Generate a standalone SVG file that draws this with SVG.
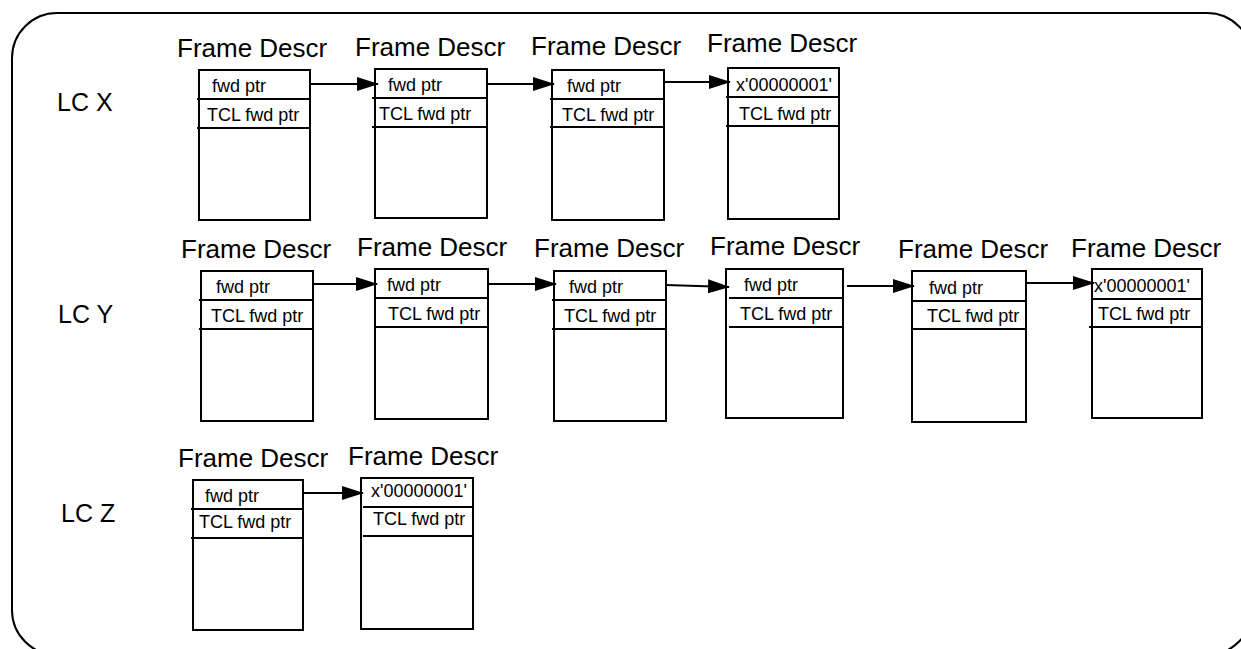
<svg xmlns="http://www.w3.org/2000/svg" width="1241" height="649" viewBox="0 0 1241 649">
<defs>
<style>
.frame{fill:none;stroke:#000;stroke-width:2}
.box{fill:#fff;stroke:#000;stroke-width:2}
.sep{stroke:#000;stroke-width:2}
.conn{stroke:#000;stroke-width:2;fill:none}
.lbl{font-family:"Liberation Sans",Arial,sans-serif;font-size:26px;fill:#000}
.lc{font-family:"Liberation Sans",Arial,sans-serif;font-size:25px;fill:#000}
.cell{font-family:"Liberation Sans",Arial,sans-serif;font-size:18px;fill:#000}
</style>
<marker id="ah" markerUnits="userSpaceOnUse" markerWidth="22" markerHeight="14" refX="21" refY="7" orient="auto">
<path d="M0,0 L22,7 L0,14 Z" fill="#000"/>
</marker>
</defs>
<rect width="1241" height="649" fill="#fff"/>
<rect class="frame" x="12" y="13" width="1240" height="642" rx="45" ry="45"/>

<text class="lc" x="57" y="111">LC X</text>
<text class="lc" x="58" y="323">LC Y</text>
<text class="lc" x="61" y="522">LC Z</text>

<g id="x1">
<text class="lbl" x="177" y="57">Frame Descr</text>
<rect class="box" x="199" y="70" width="111" height="150"/>
<line class="sep" x1="197" y1="99" x2="310" y2="99"/>
<line class="sep" x1="197" y1="128" x2="310" y2="128"/>
<text class="cell" x="212" y="92">fwd ptr</text>
<text class="cell" x="207" y="121">TCL fwd ptr</text>
</g>
<g id="x2">
<text class="lbl" x="355" y="56">Frame Descr</text>
<rect class="box" x="375" y="69" width="112" height="149"/>
<line class="sep" x1="372" y1="98" x2="487" y2="98"/>
<line class="sep" x1="372" y1="127" x2="487" y2="127"/>
<text class="cell" x="388" y="91">fwd ptr</text>
<text class="cell" x="379" y="120">TCL fwd ptr</text>
</g>
<g id="x3">
<text class="lbl" x="531" y="55">Frame Descr</text>
<rect class="box" x="552" y="70" width="112" height="150"/>
<line class="sep" x1="550" y1="99" x2="664" y2="99"/>
<line class="sep" x1="550" y1="127" x2="664" y2="127"/>
<text class="cell" x="567" y="92">fwd ptr</text>
<text class="cell" x="562" y="121">TCL fwd ptr</text>
</g>
<g id="x4">
<text class="lbl" x="707" y="52">Frame Descr</text>
<rect class="box" x="728" y="68" width="111" height="151"/>
<line class="sep" x1="726" y1="97" x2="839" y2="97"/>
<line class="sep" x1="726" y1="126" x2="839" y2="126"/>
<text class="cell" x="736" y="91">x'00000001'</text>
<text class="cell" x="739" y="120">TCL fwd ptr</text>
</g>

<g id="y1">
<text class="lbl" x="181" y="258">Frame Descr</text>
<rect class="box" x="201" y="271" width="112" height="150"/>
<line class="sep" x1="199" y1="300" x2="313" y2="300"/>
<line class="sep" x1="199" y1="329" x2="313" y2="329"/>
<text class="cell" x="216" y="293">fwd ptr</text>
<text class="cell" x="211" y="322">TCL fwd ptr</text>
</g>
<g id="y2">
<text class="lbl" x="357" y="256">Frame Descr</text>
<rect class="box" x="375" y="269" width="113" height="150"/>
<line class="sep" x1="375" y1="298" x2="488" y2="298"/>
<line class="sep" x1="375" y1="327" x2="488" y2="327"/>
<text class="cell" x="387" y="291">fwd ptr</text>
<text class="cell" x="388" y="320">TCL fwd ptr</text>
</g>
<g id="y3">
<text class="lbl" x="534" y="257">Frame Descr</text>
<rect class="box" x="554" y="271" width="112" height="150"/>
<line class="sep" x1="552" y1="300" x2="666" y2="300"/>
<line class="sep" x1="552" y1="329" x2="666" y2="329"/>
<text class="cell" x="569" y="293">fwd ptr</text>
<text class="cell" x="564" y="322">TCL fwd ptr</text>
</g>
<g id="y4">
<text class="lbl" x="710" y="255">Frame Descr</text>
<rect class="box" x="726" y="269" width="117" height="149"/>
<line class="sep" x1="729" y1="298" x2="843" y2="298"/>
<line class="sep" x1="729" y1="327" x2="843" y2="327"/>
<text class="cell" x="744" y="291">fwd ptr</text>
<text class="cell" x="740" y="320">TCL fwd ptr</text>
</g>
<g id="y5">
<text class="lbl" x="898" y="258">Frame Descr</text>
<rect class="box" x="912" y="271" width="114" height="151"/>
<line class="sep" x1="912" y1="301" x2="1026" y2="301"/>
<line class="sep" x1="912" y1="329" x2="1026" y2="329"/>
<text class="cell" x="929" y="294">fwd ptr</text>
<text class="cell" x="927" y="322">TCL fwd ptr</text>
</g>
<g id="y6">
<text class="lbl" x="1071" y="257">Frame Descr</text>
<rect class="box" x="1092" y="269" width="110" height="149"/>
<line class="sep" x1="1092" y1="299" x2="1202" y2="299"/>
<line class="sep" x1="1089" y1="327" x2="1202" y2="327"/>
<text class="cell" x="1094" y="292">x'00000001'</text>
<text class="cell" x="1098" y="320">TCL fwd ptr</text>
</g>

<g id="z1">
<text class="lbl" x="178" y="467">Frame Descr</text>
<rect class="box" x="193" y="480" width="110" height="150"/>
<line class="sep" x1="191" y1="509" x2="303" y2="509"/>
<line class="sep" x1="191" y1="538" x2="303" y2="538"/>
<text class="cell" x="205" y="502">fwd ptr</text>
<text class="cell" x="199" y="528">TCL fwd ptr</text>
</g>
<g id="z2">
<text class="lbl" x="348" y="465">Frame Descr</text>
<rect class="box" x="361" y="478" width="112" height="151"/>
<line class="sep" x1="363" y1="507" x2="473" y2="507"/>
<line class="sep" x1="363" y1="536" x2="473" y2="536"/>
<text class="cell" x="371" y="497">x'00000001'</text>
<text class="cell" x="373" y="525">TCL fwd ptr</text>
</g>

<g id="connectors">
<line class="conn" x1="310" y1="84" x2="378" y2="84" marker-end="url(#ah)"/>
<line class="conn" x1="487" y1="84" x2="554" y2="84" marker-end="url(#ah)"/>
<line class="conn" x1="664" y1="82" x2="730" y2="82" marker-end="url(#ah)"/>
<line class="conn" x1="313" y1="284" x2="377" y2="284" marker-end="url(#ah)"/>
<line class="conn" x1="488" y1="284" x2="556" y2="284" marker-end="url(#ah)"/>
<line class="conn" x1="666" y1="285" x2="729" y2="287" marker-end="url(#ah)"/>
<line class="conn" x1="847" y1="286" x2="914" y2="286" marker-end="url(#ah)"/>
<line class="conn" x1="1026" y1="283" x2="1094" y2="283" marker-end="url(#ah)"/>
<line class="conn" x1="303" y1="493" x2="363" y2="493" marker-end="url(#ah)"/>
</g>
</svg>
